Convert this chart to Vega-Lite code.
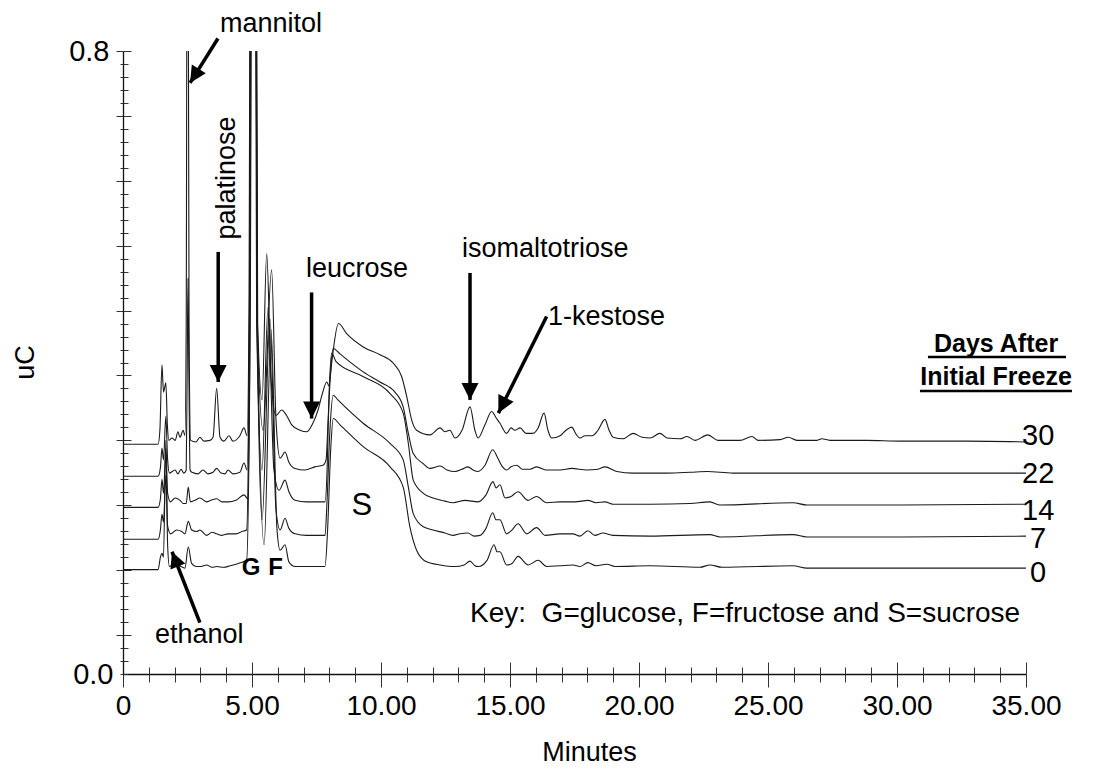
{
  "$schema": "https://vega.github.io/schema/vega-lite/v6.json",
  "width": 903,
  "height": 623,
  "autosize": "none",
  "padding": {"left": 123, "top": 51, "right": 78, "bottom": 98},
  "background": "white",
  "config": {
    "view": {"stroke": null},
    "font": "Liberation Sans",
    "axis": {"domainColor": "#111", "domainWidth": 1.3, "tickColor": "#333", "tickWidth": 1, "grid": false, "labelOverlap": false, "labelFlush": false}
  },
  "datasets": {
    "traces": [
      {"d":"30","t":0,"v":0.295},{"d":"30","t":1.36,"v":0.295},{"d":"30","t":1.43,"v":0.313},{"d":"30","t":1.51,"v":0.397},{"d":"30","t":1.57,"v":0.362},{"d":"30","t":1.66,"v":0.374},{"d":"30","t":1.72,"v":0.320},{"d":"30","t":1.78,"v":0.300},{"d":"30","t":1.90,"v":0.303},{"d":"30","t":2.02,"v":0.300},{"d":"30","t":2.13,"v":0.311},{"d":"30","t":2.21,"v":0.304},{"d":"30","t":2.33,"v":0.313},{"d":"30","t":2.40,"v":0.306},{"d":"30","t":2.45,"v":0.45},{"d":"30","t":2.50,"v":1.3},{"d":"30","t":2.56,"v":0.45},{"d":"30","t":2.62,"v":0.300},{"d":"30","t":2.83,"v":0.298},{"d":"30","t":2.98,"v":0.304},{"d":"30","t":3.14,"v":0.299},{"d":"30","t":3.37,"v":0.300},{"d":"30","t":3.49,"v":0.304},{"d":"30","t":3.63,"v":0.367},{"d":"30","t":3.76,"v":0.304},{"d":"30","t":3.91,"v":0.299},{"d":"30","t":4.11,"v":0.306},{"d":"30","t":4.26,"v":0.299},{"d":"30","t":4.53,"v":0.306},{"d":"30","t":4.69,"v":0.316},{"d":"30","t":4.81,"v":0.306},{"d":"30","t":4.88,"v":0.45},{"d":"30","t":4.96,"v":1.3},{"d":"30","t":5.14,"v":1.3},{"d":"30","t":5.22,"v":0.45},{"d":"30","t":5.39,"v":0.352},{"d":"30","t":5.57,"v":0.540},{"d":"30","t":5.74,"v":0.377},{"d":"30","t":5.93,"v":0.332},{"d":"30","t":6.15,"v":0.339},{"d":"30","t":6.34,"v":0.332},{"d":"30","t":6.54,"v":0.320},{"d":"30","t":6.86,"v":0.313},{"d":"30","t":7.12,"v":0.311},{"d":"30","t":7.33,"v":0.320},{"d":"30","t":7.56,"v":0.339},{"d":"30","t":7.71,"v":0.358},{"d":"30","t":7.90,"v":0.375},{"d":"30","t":7.98,"v":0.370},{"d":"30","t":8.10,"v":0.403},{"d":"30","t":8.35,"v":0.450},{"d":"30","t":8.67,"v":0.437},{"d":"30","t":9.31,"v":0.420},{"d":"30","t":9.96,"v":0.410},{"d":"30","t":10.48,"v":0.399},{"d":"30","t":10.80,"v":0.382},{"d":"30","t":11.00,"v":0.356},{"d":"30","t":11.19,"v":0.326},{"d":"30","t":11.38,"v":0.313},{"d":"30","t":11.90,"v":0.307},{"d":"30","t":12.29,"v":0.316},{"d":"30","t":12.48,"v":0.311},{"d":"30","t":12.67,"v":0.313},{"d":"30","t":12.87,"v":0.303},{"d":"30","t":13.14,"v":0.313},{"d":"30","t":13.45,"v":0.343},{"d":"30","t":13.64,"v":0.313},{"d":"30","t":13.76,"v":0.303},{"d":"30","t":14.03,"v":0.320},{"d":"30","t":14.29,"v":0.337},{"d":"30","t":14.46,"v":0.329},{"d":"30","t":14.61,"v":0.322},{"d":"30","t":14.87,"v":0.309},{"d":"30","t":15.04,"v":0.316},{"d":"30","t":15.19,"v":0.313},{"d":"30","t":15.39,"v":0.316},{"d":"30","t":15.62,"v":0.309},{"d":"30","t":15.89,"v":0.309},{"d":"30","t":16.09,"v":0.316},{"d":"30","t":16.32,"v":0.335},{"d":"30","t":16.47,"v":0.313},{"d":"30","t":16.62,"v":0.303},{"d":"30","t":16.94,"v":0.306},{"d":"30","t":17.17,"v":0.313},{"d":"30","t":17.39,"v":0.317},{"d":"30","t":17.56,"v":0.308},{"d":"30","t":17.71,"v":0.303},{"d":"30","t":17.91,"v":0.306},{"d":"30","t":18.18,"v":0.306},{"d":"30","t":18.41,"v":0.313},{"d":"30","t":18.68,"v":0.327},{"d":"30","t":18.84,"v":0.313},{"d":"30","t":19.00,"v":0.304},{"d":"30","t":19.38,"v":0.302},{"d":"30","t":19.77,"v":0.309},{"d":"30","t":20.12,"v":0.304},{"d":"30","t":20.43,"v":0.303},{"d":"30","t":20.81,"v":0.309},{"d":"30","t":21.09,"v":0.303},{"d":"30","t":21.59,"v":0.302},{"d":"30","t":21.86,"v":0.305},{"d":"30","t":22.17,"v":0.300},{"d":"30","t":22.67,"v":0.307},{"d":"30","t":23.06,"v":0.300},{"d":"30","t":23.91,"v":0.300},{"d":"30","t":24.38,"v":0.305},{"d":"30","t":24.61,"v":0.300},{"d":"30","t":25.47,"v":0.301},{"d":"30","t":25.78,"v":0.304},{"d":"30","t":26.12,"v":0.300},{"d":"30","t":26.90,"v":0.300},{"d":"30","t":27.09,"v":0.302},{"d":"30","t":27.40,"v":0.300},{"d":"30","t":28.84,"v":0.300},{"d":"30","t":30.12,"v":0.299},{"d":"30","t":32.71,"v":0.299},{"d":"30","t":35,"v":0.298},

      {"d":"22","t":0,"v":0.254},{"d":"22","t":1.36,"v":0.254},{"d":"22","t":1.45,"v":0.265},{"d":"22","t":1.51,"v":0.290},{"d":"22","t":1.57,"v":0.275},{"d":"22","t":1.66,"v":0.331},{"d":"22","t":1.73,"v":0.275},{"d":"22","t":1.80,"v":0.258},{"d":"22","t":2.02,"v":0.262},{"d":"22","t":2.13,"v":0.257},{"d":"22","t":2.25,"v":0.263},{"d":"22","t":2.36,"v":0.258},{"d":"22","t":2.45,"v":0.262},{"d":"22","t":2.49,"v":0.40},{"d":"22","t":2.52,"v":0.508},{"d":"22","t":2.55,"v":0.40},{"d":"22","t":2.60,"v":0.262},{"d":"22","t":2.67,"v":0.259},{"d":"22","t":2.91,"v":0.257},{"d":"22","t":3.10,"v":0.262},{"d":"22","t":3.29,"v":0.257},{"d":"22","t":3.49,"v":0.259},{"d":"22","t":3.63,"v":0.264},{"d":"22","t":3.80,"v":0.258},{"d":"22","t":3.95,"v":0.257},{"d":"22","t":4.07,"v":0.262},{"d":"22","t":4.26,"v":0.257},{"d":"22","t":4.53,"v":0.259},{"d":"22","t":4.69,"v":0.271},{"d":"22","t":4.81,"v":0.262},{"d":"22","t":4.90,"v":0.45},{"d":"22","t":4.98,"v":1.3},{"d":"22","t":5.12,"v":1.3},{"d":"22","t":5.20,"v":0.45},{"d":"22","t":5.43,"v":0.313},{"d":"22","t":5.76,"v":0.519},{"d":"22","t":5.93,"v":0.326},{"d":"22","t":6.09,"v":0.277},{"d":"22","t":6.28,"v":0.285},{"d":"22","t":6.43,"v":0.272},{"d":"22","t":6.67,"v":0.264},{"d":"22","t":7.05,"v":0.262},{"d":"22","t":7.44,"v":0.266},{"d":"22","t":7.75,"v":0.268},{"d":"22","t":7.87,"v":0.275},{"d":"22","t":7.95,"v":0.326},{"d":"22","t":8.05,"v":0.390},{"d":"22","t":8.15,"v":0.418},{"d":"22","t":8.41,"v":0.411},{"d":"22","t":9.31,"v":0.388},{"d":"22","t":9.96,"v":0.375},{"d":"22","t":10.54,"v":0.362},{"d":"22","t":10.86,"v":0.343},{"d":"22","t":11.06,"v":0.309},{"d":"22","t":11.25,"v":0.283},{"d":"22","t":11.64,"v":0.270},{"d":"22","t":11.90,"v":0.264},{"d":"22","t":12.29,"v":0.267},{"d":"22","t":12.56,"v":0.262},{"d":"22","t":12.87,"v":0.260},{"d":"22","t":13.14,"v":0.263},{"d":"22","t":13.37,"v":0.266},{"d":"22","t":13.57,"v":0.262},{"d":"22","t":13.76,"v":0.260},{"d":"22","t":14.03,"v":0.268},{"d":"22","t":14.33,"v":0.288},{"d":"22","t":14.53,"v":0.277},{"d":"22","t":14.69,"v":0.267},{"d":"22","t":14.87,"v":0.262},{"d":"22","t":15.04,"v":0.266},{"d":"22","t":15.26,"v":0.268},{"d":"22","t":15.47,"v":0.263},{"d":"22","t":15.78,"v":0.263},{"d":"22","t":16.03,"v":0.266},{"d":"22","t":16.42,"v":0.262},{"d":"22","t":16.94,"v":0.262},{"d":"22","t":17.39,"v":0.264},{"d":"22","t":17.97,"v":0.262},{"d":"22","t":18.41,"v":0.263},{"d":"22","t":18.68,"v":0.266},{"d":"22","t":19.14,"v":0.260},{"d":"22","t":19.77,"v":0.258},{"d":"22","t":21.09,"v":0.258},{"d":"22","t":21.98,"v":0.259},{"d":"22","t":22.64,"v":0.260},{"d":"22","t":23.64,"v":0.258},{"d":"22","t":26.24,"v":0.258},{"d":"22","t":28.84,"v":0.258},{"d":"22","t":35,"v":0.258},

      {"d":"14","t":0,"v":0.214},{"d":"14","t":1.36,"v":0.214},{"d":"14","t":1.45,"v":0.225},{"d":"14","t":1.51,"v":0.250},{"d":"14","t":1.57,"v":0.232},{"d":"14","t":1.66,"v":0.290},{"d":"14","t":1.73,"v":0.232},{"d":"14","t":1.84,"v":0.221},{"d":"14","t":2.02,"v":0.226},{"d":"14","t":2.21,"v":0.223},{"d":"14","t":2.34,"v":0.219},{"d":"14","t":2.45,"v":0.219},{"d":"14","t":2.53,"v":0.240},{"d":"14","t":2.61,"v":0.221},{"d":"14","t":2.79,"v":0.223},{"d":"14","t":2.98,"v":0.226},{"d":"14","t":3.24,"v":0.221},{"d":"14","t":3.41,"v":0.223},{"d":"14","t":3.63,"v":0.225},{"d":"14","t":3.84,"v":0.221},{"d":"14","t":4.07,"v":0.221},{"d":"14","t":4.38,"v":0.223},{"d":"14","t":4.69,"v":0.230},{"d":"14","t":4.84,"v":0.225},{"d":"14","t":4.92,"v":0.45},{"d":"14","t":5.00,"v":1.3},{"d":"14","t":5.10,"v":1.3},{"d":"14","t":5.18,"v":0.45},{"d":"14","t":5.39,"v":0.262},{"d":"14","t":5.62,"v":0.471},{"d":"14","t":5.85,"v":0.262},{"d":"14","t":6.05,"v":0.236},{"d":"14","t":6.28,"v":0.249},{"d":"14","t":6.43,"v":0.234},{"d":"14","t":6.67,"v":0.223},{"d":"14","t":7.12,"v":0.221},{"d":"14","t":7.83,"v":0.221},{"d":"14","t":7.91,"v":0.262},{"d":"14","t":7.98,"v":0.352},{"d":"14","t":8.09,"v":0.412},{"d":"14","t":8.26,"v":0.401},{"d":"14","t":9.30,"v":0.382},{"d":"14","t":10.35,"v":0.360},{"d":"14","t":10.86,"v":0.335},{"d":"14","t":11.06,"v":0.296},{"d":"14","t":11.25,"v":0.249},{"d":"14","t":11.64,"v":0.232},{"d":"14","t":12.02,"v":0.226},{"d":"14","t":12.48,"v":0.222},{"d":"14","t":12.79,"v":0.220},{"d":"14","t":13.26,"v":0.223},{"d":"14","t":13.76,"v":0.221},{"d":"14","t":14.07,"v":0.230},{"d":"14","t":14.34,"v":0.247},{"d":"14","t":14.46,"v":0.239},{"d":"14","t":14.61,"v":0.243},{"d":"14","t":14.81,"v":0.226},{"d":"14","t":15.04,"v":0.228},{"d":"14","t":15.31,"v":0.234},{"d":"14","t":15.70,"v":0.223},{"d":"14","t":16.03,"v":0.228},{"d":"14","t":16.42,"v":0.220},{"d":"14","t":16.94,"v":0.221},{"d":"14","t":17.52,"v":0.221},{"d":"14","t":18.02,"v":0.223},{"d":"14","t":18.33,"v":0.220},{"d":"14","t":18.68,"v":0.221},{"d":"14","t":18.99,"v":0.218},{"d":"14","t":20.43,"v":0.218},{"d":"14","t":21.98,"v":0.219},{"d":"14","t":22.75,"v":0.221},{"d":"14","t":23.14,"v":0.217},{"d":"14","t":25.97,"v":0.220},{"d":"14","t":26.51,"v":0.217},{"d":"14","t":30.12,"v":0.217},{"d":"14","t":35,"v":0.218},

      {"d":"7","t":0,"v":0.173},{"d":"7","t":1.36,"v":0.173},{"d":"7","t":1.45,"v":0.185},{"d":"7","t":1.51,"v":0.205},{"d":"7","t":1.57,"v":0.195},{"d":"7","t":1.66,"v":0.255},{"d":"7","t":1.73,"v":0.190},{"d":"7","t":1.85,"v":0.180},{"d":"7","t":2.08,"v":0.185},{"d":"7","t":2.28,"v":0.183},{"d":"7","t":2.40,"v":0.180},{"d":"7","t":2.53,"v":0.196},{"d":"7","t":2.66,"v":0.185},{"d":"7","t":2.86,"v":0.183},{"d":"7","t":2.98,"v":0.185},{"d":"7","t":3.24,"v":0.178},{"d":"7","t":3.45,"v":0.182},{"d":"7","t":3.63,"v":0.180},{"d":"7","t":3.84,"v":0.178},{"d":"7","t":4.07,"v":0.180},{"d":"7","t":4.38,"v":0.180},{"d":"7","t":4.61,"v":0.183},{"d":"7","t":4.79,"v":0.185},{"d":"7","t":4.90,"v":0.45},{"d":"7","t":4.99,"v":1.3},{"d":"7","t":5.11,"v":1.3},{"d":"7","t":5.20,"v":0.45},{"d":"7","t":5.39,"v":0.198},{"d":"7","t":5.70,"v":0.456},{"d":"7","t":5.93,"v":0.211},{"d":"7","t":6.09,"v":0.185},{"d":"7","t":6.28,"v":0.200},{"d":"7","t":6.43,"v":0.187},{"d":"7","t":6.67,"v":0.180},{"d":"7","t":7.12,"v":0.178},{"d":"7","t":7.83,"v":0.178},{"d":"7","t":7.91,"v":0.223},{"d":"7","t":8.02,"v":0.313},{"d":"7","t":8.15,"v":0.358},{"d":"7","t":8.33,"v":0.352},{"d":"7","t":9.31,"v":0.322},{"d":"7","t":10.35,"v":0.296},{"d":"7","t":10.86,"v":0.275},{"d":"7","t":11.06,"v":0.240},{"d":"7","t":11.25,"v":0.206},{"d":"7","t":11.64,"v":0.189},{"d":"7","t":12.02,"v":0.185},{"d":"7","t":12.48,"v":0.181},{"d":"7","t":12.79,"v":0.178},{"d":"7","t":13.06,"v":0.180},{"d":"7","t":13.37,"v":0.181},{"d":"7","t":13.61,"v":0.177},{"d":"7","t":13.84,"v":0.178},{"d":"7","t":14.07,"v":0.187},{"d":"7","t":14.33,"v":0.207},{"d":"7","t":14.46,"v":0.198},{"d":"7","t":14.61,"v":0.198},{"d":"7","t":14.87,"v":0.180},{"d":"7","t":15.08,"v":0.185},{"d":"7","t":15.31,"v":0.193},{"d":"7","t":15.65,"v":0.180},{"d":"7","t":16.03,"v":0.188},{"d":"7","t":16.36,"v":0.178},{"d":"7","t":16.94,"v":0.180},{"d":"7","t":17.44,"v":0.180},{"d":"7","t":17.71,"v":0.177},{"d":"7","t":18.02,"v":0.184},{"d":"7","t":18.29,"v":0.178},{"d":"7","t":18.60,"v":0.181},{"d":"7","t":18.99,"v":0.178},{"d":"7","t":20.43,"v":0.177},{"d":"7","t":22.75,"v":0.179},{"d":"7","t":23.14,"v":0.176},{"d":"7","t":25.97,"v":0.179},{"d":"7","t":26.51,"v":0.176},{"d":"7","t":30.12,"v":0.176},{"d":"7","t":35,"v":0.177},

      {"d":"0","t":0,"v":0.134},{"d":"0","t":1.36,"v":0.134},{"d":"0","t":1.45,"v":0.150},{"d":"0","t":1.51,"v":0.155},{"d":"0","t":1.57,"v":0.150},{"d":"0","t":1.66,"v":0.300},{"d":"0","t":1.73,"v":0.165},{"d":"0","t":1.80,"v":0.138},{"d":"0","t":1.86,"v":0.139},{"d":"0","t":2.08,"v":0.142},{"d":"0","t":2.25,"v":0.138},{"d":"0","t":2.40,"v":0.136},{"d":"0","t":2.53,"v":0.163},{"d":"0","t":2.66,"v":0.142},{"d":"0","t":2.83,"v":0.138},{"d":"0","t":3.02,"v":0.138},{"d":"0","t":3.24,"v":0.140},{"d":"0","t":3.45,"v":0.137},{"d":"0","t":3.63,"v":0.138},{"d":"0","t":3.91,"v":0.137},{"d":"0","t":4.15,"v":0.139},{"d":"0","t":4.47,"v":0.142},{"d":"0","t":4.79,"v":0.146},{"d":"0","t":4.93,"v":0.45},{"d":"0","t":5.02,"v":1.3},{"d":"0","t":5.12,"v":1.3},{"d":"0","t":5.21,"v":0.45},{"d":"0","t":5.47,"v":0.166},{"d":"0","t":5.74,"v":0.442},{"d":"0","t":5.97,"v":0.185},{"d":"0","t":6.09,"v":0.159},{"d":"0","t":6.28,"v":0.166},{"d":"0","t":6.43,"v":0.144},{"d":"0","t":6.67,"v":0.138},{"d":"0","t":7.12,"v":0.138},{"d":"0","t":7.83,"v":0.138},{"d":"0","t":7.93,"v":0.185},{"d":"0","t":8.05,"v":0.288},{"d":"0","t":8.15,"v":0.328},{"d":"0","t":8.41,"v":0.320},{"d":"0","t":9.31,"v":0.292},{"d":"0","t":10.35,"v":0.266},{"d":"0","t":10.86,"v":0.240},{"d":"0","t":11.12,"v":0.189},{"d":"0","t":11.38,"v":0.159},{"d":"0","t":11.77,"v":0.144},{"d":"0","t":12.29,"v":0.140},{"d":"0","t":12.87,"v":0.138},{"d":"0","t":13.22,"v":0.140},{"d":"0","t":13.45,"v":0.145},{"d":"0","t":13.64,"v":0.139},{"d":"0","t":13.76,"v":0.138},{"d":"0","t":14.11,"v":0.146},{"d":"0","t":14.38,"v":0.166},{"d":"0","t":14.50,"v":0.157},{"d":"0","t":14.61,"v":0.157},{"d":"0","t":14.87,"v":0.140},{"d":"0","t":15.08,"v":0.142},{"d":"0","t":15.31,"v":0.151},{"d":"0","t":15.70,"v":0.140},{"d":"0","t":16.09,"v":0.146},{"d":"0","t":16.42,"v":0.138},{"d":"0","t":16.94,"v":0.139},{"d":"0","t":17.44,"v":0.140},{"d":"0","t":17.71,"v":0.138},{"d":"0","t":18.02,"v":0.143},{"d":"0","t":18.33,"v":0.139},{"d":"0","t":18.75,"v":0.141},{"d":"0","t":19.07,"v":0.138},{"d":"0","t":20.43,"v":0.139},{"d":"0","t":22.36,"v":0.137},{"d":"0","t":22.75,"v":0.140},{"d":"0","t":23.22,"v":0.137},{"d":"0","t":25.97,"v":0.139},{"d":"0","t":26.51,"v":0.136},{"d":"0","t":30.12,"v":0.136},{"d":"0","t":35,"v":0.136}
    ],
    "arrows": [
      {"name":"mannitol","t":3.68,"v":0.816,"t2":2.60,"v2":0.759},
      {"name":"palatinose","t":3.69,"v":0.542,"t2":3.69,"v2":0.375},
      {"name":"leucrose","t":7.31,"v":0.490,"t2":7.31,"v2":0.328},
      {"name":"isomaltotriose","t":13.45,"v":0.515,"t2":13.45,"v2":0.352},
      {"name":"1-kestose","t":16.42,"v":0.459,"t2":14.55,"v2":0.335},
      {"name":"ethanol","t":2.98,"v":0.066,"t2":1.90,"v2":0.157}
    ],
    "notes": [
      {"group":"name","label":"mannitol","t":3.76,"v":0.825},
      {"group":"name","label":"leucrose","t":7.09,"v":0.510},
      {"group":"name","label":"isomaltotriose","t":13.14,"v":0.535},
      {"group":"name","label":"1-kestose","t":16.47,"v":0.448},
      {"group":"name","label":"ethanol","t":1.24,"v":0.040},
      {"group":"key","label":"Key:\u00a0 G=glucose, F=fructose and S=sucrose","t":13.45,"v":0.067},
      {"group":"vertical","label":"palatinose","t":4.03,"v":0.637},
      {"group":"peak","label":"G","t":4.60,"v":0.127},
      {"group":"peak","label":"F","t":5.63,"v":0.127},
      {"group":"big","label":"S","t":8.86,"v":0.204},
      {"group":"day","label":"30","t":35.47,"v":0.294},
      {"group":"day","label":"22","t":35.47,"v":0.245},
      {"group":"day","label":"14","t":35.47,"v":0.198},
      {"group":"day","label":"7","t":35.47,"v":0.162},
      {"group":"day","label":"0","t":35.47,"v":0.1185},
      {"group":"header","label":"Days After","t":33.84,"v":0.413},
      {"group":"header","label":"Initial Freeze","t":33.84,"v":0.371}
    ],
    "underlines": [
      {"t":31.2,"t2":36.55,"v":0.407},
      {"t":30.89,"t2":36.78,"v":0.3633}
    ]
  },
  "resolve": {"axis": {"x": "independent", "y": "independent"}},
  "layer": [
    {
      "data": {"name": "traces"},
      "mark": {"type": "line", "interpolate": "monotone", "clip": true, "color": "#1a1a1a", "strokeWidth": 1.1},
      "encoding": {
        "x": {"field": "t", "type": "quantitative", "scale": {"domain": [0, 35], "nice": false, "zero": false},
          "axis": {"orient": "bottom", "title": "Minutes", "titleFontSize": 27, "titleFontWeight": "normal", "titleColor": "black",
            "titleX": 466, "titleY": 86, "titleBaseline": "alphabetic", "titleAlign": "center",
            "values": [0,1,2,3,4,5,6,7,8,9,10,11,12,13,14,15,16,17,18,19,20,21,22,23,24,25,26,27,28,29,30,31,32,33,34,35],
            "tickSize": {"condition": {"test": "datum.value % 5 === 0", "value": 13}, "value": 8},
            "labelExpr": "datum.value % 5 === 0 ? (datum.value === 0 ? '0' : format(datum.value, '.2f')) : ''",
            "labelFontSize": 28, "labelColor": "black", "labelPadding": 5}},
        "y": {"field": "v", "type": "quantitative", "scale": {"domain": [0, 0.8], "nice": false, "zero": false},
          "axis": {"orient": "left", "title": "uC", "titleFontSize": 27, "titleFontWeight": "normal", "titleColor": "black",
            "titleX": -90, "titleY": 311, "titleBaseline": "alphabetic", "titleAlign": "center", "titleAngle": -90,
            "values": [0,0.016667,0.033333,0.05,0.066667,0.083333,0.1,0.116667,0.133333,0.15,0.166667,0.183333,0.2,0.216667,0.233333,0.25,0.266667,0.283333,0.3,0.316667,0.333333,0.35,0.366667,0.383333,0.4,0.416667,0.433333,0.45,0.466667,0.483333,0.5,0.516667,0.533333,0.55,0.566667,0.583333,0.6,0.616667,0.633333,0.65,0.666667,0.683333,0.7,0.716667,0.733333,0.75,0.766667,0.783333,0.8],
            "tickSize": {"condition": {"test": "round((0.8 - datum.value) * 60) % 5 === 0", "value": 7}, "value": 3},
            "labelExpr": "datum.value === 0 ? '0.0' : (datum.value > 0.79 ? '0.8' : '')",
            "labelFontSize": 29, "labelColor": "black", "labelPadding": 7}},
        "detail": {"field": "d", "type": "nominal"}
      }
    },
    {
      "data": {"name": "arrows"},
      "mark": {"type": "rule", "strokeWidth": 3.5, "color": "black"},
      "encoding": {
        "x": {"field": "t", "type": "quantitative",
          "axis": {"orient": "bottom", "title": null, "labels": false, "domain": false,
            "values": [0,1,2,3,4,5,6,7,8,9,10,11,12,13,14,15,16,17,18,19,20,21,22,23,24,25,26,27,28,29,30,31,32,33,34,35],
            "tickSize": {"condition": {"test": "datum.value % 5 === 0", "value": -12}, "value": -7}}},
        "y": {"field": "v", "type": "quantitative",
          "axis": {"orient": "left", "title": null, "labels": false, "domain": false,
            "values": [0,0.016667,0.033333,0.05,0.066667,0.083333,0.1,0.116667,0.133333,0.15,0.166667,0.183333,0.2,0.216667,0.233333,0.25,0.266667,0.283333,0.3,0.316667,0.333333,0.35,0.366667,0.383333,0.4,0.416667,0.433333,0.45,0.466667,0.483333,0.5,0.516667,0.533333,0.55,0.566667,0.583333,0.6,0.616667,0.633333,0.65,0.666667,0.683333,0.7,0.716667,0.733333,0.75,0.766667,0.783333,0.8],
            "tickSize": {"condition": {"test": "round((0.8 - datum.value) * 60) % 5 === 0", "value": -8}, "value": -5}}},
        "x2": {"field": "t2"},
        "y2": {"field": "v2"}
      }
    },
    {
      "data": {"name": "arrows"},
      "transform": [{"filter": "datum.name === 'palatinose' || datum.name === 'leucrose' || datum.name === 'isomaltotriose'"}],
      "mark": {"type": "point", "shape": "M0,0L-0.95,-1.9L0.95,-1.9Z", "filled": true, "color": "black", "opacity": 1, "size": 320, "angle": 0},
      "encoding": {"x": {"field": "t2", "type": "quantitative", "axis": null}, "y": {"field": "v2", "type": "quantitative", "axis": null}}
    },
    {
      "data": {"name": "arrows"},
      "transform": [{"filter": "datum.name === 'mannitol'"}],
      "mark": {"type": "point", "shape": "M0,0L-0.95,-1.9L0.95,-1.9Z", "filled": true, "color": "black", "opacity": 1, "size": 300, "angle": 32},
      "encoding": {"x": {"field": "t2", "type": "quantitative", "axis": null}, "y": {"field": "v2", "type": "quantitative", "axis": null}}
    },
    {
      "data": {"name": "arrows"},
      "transform": [{"filter": "datum.name === '1-kestose'"}],
      "mark": {"type": "point", "shape": "M0,0L-0.95,-1.9L0.95,-1.9Z", "filled": true, "color": "black", "opacity": 1, "size": 320, "angle": 26.6},
      "encoding": {"x": {"field": "t2", "type": "quantitative", "axis": null}, "y": {"field": "v2", "type": "quantitative", "axis": null}}
    },
    {
      "data": {"name": "arrows"},
      "transform": [{"filter": "datum.name === 'ethanol'"}],
      "mark": {"type": "point", "shape": "M0,0L-0.95,-1.9L0.95,-1.9Z", "filled": true, "color": "black", "opacity": 1, "size": 280, "angle": 158.5},
      "encoding": {"x": {"field": "t2", "type": "quantitative", "axis": null}, "y": {"field": "v2", "type": "quantitative", "axis": null}}
    },
    {
      "data": {"name": "notes"},
      "transform": [{"filter": "datum.group === 'name'"}],
      "mark": {"type": "text", "fontSize": 27, "align": "left", "baseline": "alphabetic", "color": "black"},
      "encoding": {"x": {"field": "t", "type": "quantitative", "axis": null}, "y": {"field": "v", "type": "quantitative", "axis": null}, "text": {"field": "label"}}
    },
    {
      "data": {"name": "notes"},
      "transform": [{"filter": "datum.group === 'key'"}],
      "mark": {"type": "text", "fontSize": 28, "align": "left", "baseline": "alphabetic", "color": "black"},
      "encoding": {"x": {"field": "t", "type": "quantitative", "axis": null}, "y": {"field": "v", "type": "quantitative", "axis": null}, "text": {"field": "label"}}
    },
    {
      "data": {"name": "notes"},
      "transform": [{"filter": "datum.group === 'vertical'"}],
      "mark": {"type": "text", "fontSize": 27, "align": "center", "baseline": "middle", "angle": 270, "color": "black"},
      "encoding": {"x": {"field": "t", "type": "quantitative", "axis": null}, "y": {"field": "v", "type": "quantitative", "axis": null}, "text": {"field": "label"}}
    },
    {
      "data": {"name": "notes"},
      "transform": [{"filter": "datum.group === 'peak'"}],
      "mark": {"type": "text", "fontSize": 24, "fontWeight": "bold", "align": "left", "baseline": "alphabetic", "color": "black"},
      "encoding": {"x": {"field": "t", "type": "quantitative", "axis": null}, "y": {"field": "v", "type": "quantitative", "axis": null}, "text": {"field": "label"}}
    },
    {
      "data": {"name": "notes"},
      "transform": [{"filter": "datum.group === 'big'"}],
      "mark": {"type": "text", "fontSize": 31, "align": "left", "baseline": "alphabetic", "color": "black"},
      "encoding": {"x": {"field": "t", "type": "quantitative", "axis": null}, "y": {"field": "v", "type": "quantitative", "axis": null}, "text": {"field": "label"}}
    },
    {
      "data": {"name": "notes"},
      "transform": [{"filter": "datum.group === 'day'"}],
      "mark": {"type": "text", "fontSize": 29, "align": "center", "baseline": "alphabetic", "color": "black"},
      "encoding": {"x": {"field": "t", "type": "quantitative", "axis": null}, "y": {"field": "v", "type": "quantitative", "axis": null}, "text": {"field": "label"}}
    },
    {
      "data": {"name": "notes"},
      "transform": [{"filter": "datum.group === 'header'"}],
      "mark": {"type": "text", "fontSize": 25, "fontWeight": "bold", "align": "center", "baseline": "alphabetic", "color": "black"},
      "encoding": {"x": {"field": "t", "type": "quantitative", "axis": null}, "y": {"field": "v", "type": "quantitative", "axis": null}, "text": {"field": "label"}}
    },
    {
      "data": {"name": "underlines"},
      "mark": {"type": "rule", "strokeWidth": 2.5, "color": "black"},
      "encoding": {"x": {"field": "t", "type": "quantitative", "axis": null}, "x2": {"field": "t2"}, "y": {"field": "v", "type": "quantitative", "axis": null}}
    }
  ]
}
